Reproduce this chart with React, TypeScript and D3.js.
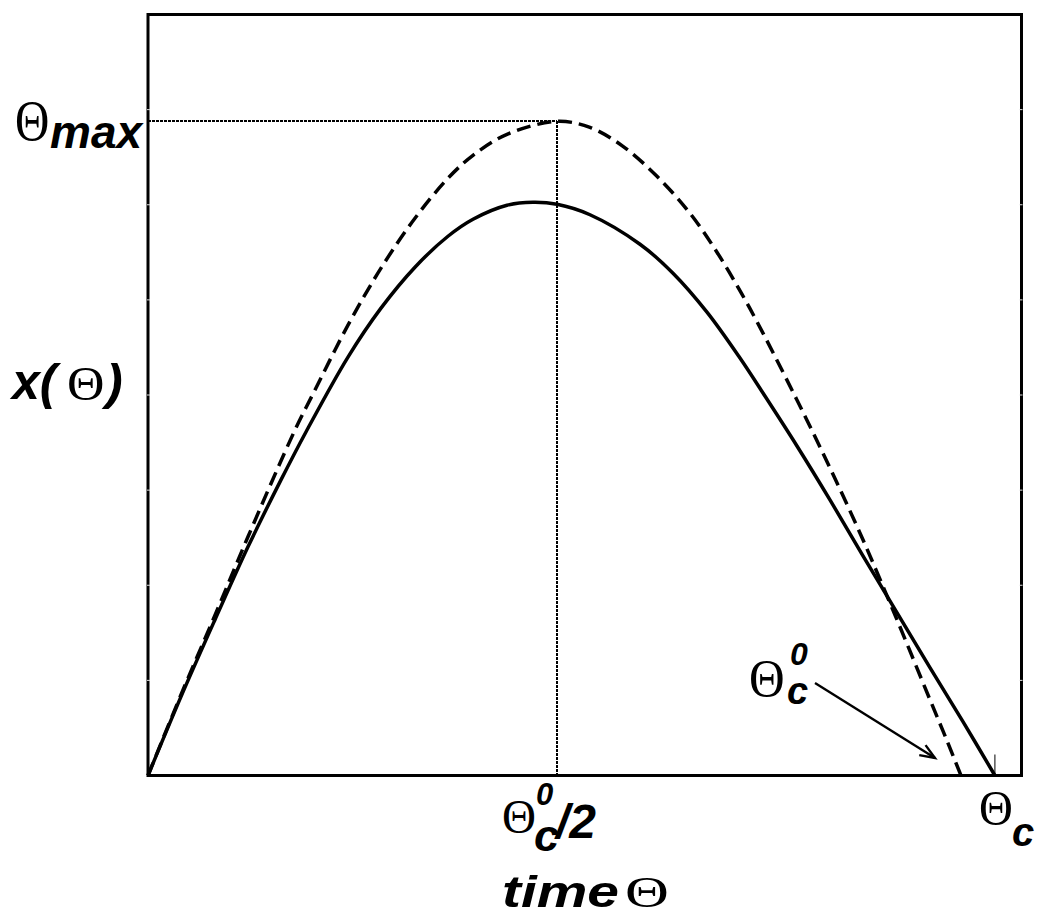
import React from "react";
import * as d3 from "d3";

// time in units of Θc^0, height in units of Θmax
const solidT = [0, 0.0406, 0.0824, 0.123, 0.1636, 0.1943, 0.246, 0.2866, 0.3284, 0.369, 0.3998, 0.4416, 0.4736, 0.5031, 0.5437, 0.6052, 0.6458, 0.6876, 0.7282, 0.7565, 0.7983, 0.8389, 0.8795, 0.9213, 0.9619, 1.0025, 1.0418];
const solidX = [0, 0.1206, 0.2382, 0.3496, 0.4519, 0.5252, 0.6397, 0.7145, 0.7771, 0.8244, 0.8504, 0.8718, 0.8763, 0.8733, 0.8573, 0.8122, 0.7679, 0.7084, 0.6382, 0.5847, 0.5038, 0.4214, 0.3359, 0.2489, 0.1649, 0.0824, 0];

const dashT = [0, 0.0406, 0.0824, 0.123, 0.1808, 0.2054, 0.246, 0.2866, 0.3284, 0.369, 0.3998, 0.4416, 0.5031, 0.5437, 0.5843, 0.6261, 0.6667, 0.6999, 0.7306, 0.7565, 0.7983, 0.8389, 0.8795, 0.9213, 0.9619, 0.9828, 1.0];
const dashX = [0, 0.1235, 0.245, 0.365, 0.5282, 0.5893, 0.6885, 0.7756, 0.8519, 0.913, 0.9481, 0.9802, 1.0, 0.9908, 0.9618, 0.916, 0.8595, 0.8, 0.7359, 0.6763, 0.574, 0.4702, 0.3603, 0.2382, 0.116, 0.0534, 0];

const tMax = 0.5031; // Θc^0/2
const xMax = 1.0; // Θmax
const tC = 1.0418; // Θc
const minorTicks = [1, 2, 3, 4, 5, 6, 7];

const W = 1042, H = 921;
const L = 148, R = 1021.5, T = 14.5, B = 775.5;

const SANS = "'Liberation Sans', Arial, sans-serif";
const SERIF = "'Liberation Serif', 'Times New Roman', serif";

function Theta({ x, y, size, sx = 1, sy = 1 }: { x: number; y: number; size: number; sx?: number; sy?: number }) {
  return (
    <text transform={`translate(${x},${y}) scale(${sx},${sy})`} style={{ fontSize: `${size}px`, fontFamily: SERIF, fontWeight: 400 }}>
      Θ
    </text>
  );
}

export default function App() {
  const x = d3.scaleLinear().domain([0, 1.0745]).range([L, R]);
  const y = d3.scaleLinear().domain([0, 1.1634]).range([B, T]);
  const yt = d3.scaleLinear().domain([0, 8]).range([B, T]);

  const line = d3
    .line<[number, number]>()
    .x((d) => x(d[0]))
    .y((d) => y(d[1]))
    .curve(d3.curveCatmullRom.alpha(0.5));

  const solid = line(solidT.map((t, i) => [t, solidX[i]]));
  const dashed = line(dashT.map((t, i) => [t, dashX[i]]));

  const bi = { fontFamily: SANS, fontWeight: 700, fontStyle: "italic" as const };

  // arrow
  const a0 = [815, 683], a1 = [935, 758];
  const ang = Math.atan2(a1[1] - a0[1], a1[0] - a0[0]);
  const hl = 16, ha = 0.38;
  const h1 = [a1[0] - hl * Math.cos(ang - ha), a1[1] - hl * Math.sin(ang - ha)];
  const h2 = [a1[0] - hl * Math.cos(ang + ha), a1[1] - hl * Math.sin(ang + ha)];

  const gy = Math.round(y(xMax));
  const gx = Math.round(x(tMax));

  return (
    <svg width={W} height={H} style={{ position: "absolute", left: 0, top: 0, background: "#fff" }}>
      <rect x={0} y={0} width={W} height={H} fill="#fff" />
      {/* dotted guides */}
      <line x1={L} x2={gx} y1={gy} y2={gy} stroke="#000" strokeWidth={2} strokeDasharray="2.5,1.5" shapeRendering="crispEdges" />
      <line x1={gx} x2={gx} y1={gy} y2={B} stroke="#000" strokeWidth={2} strokeDasharray="2.5,1.5" shapeRendering="crispEdges" />
      {/* curves */}
      <path d={dashed || ""} fill="none" stroke="#000" strokeWidth={3.5} strokeDasharray="14,7" />
      <path d={solid || ""} fill="none" stroke="#000" strokeWidth={3.5} />
      {/* frame */}
      <rect x={L} y={T} width={R - L} height={B - T} fill="none" stroke="#000" strokeWidth={3} />
      {minorTicks.map((k) => (
        <g key={k}>
          <line x1={L - 1} x2={L + 2} y1={yt(k)} y2={yt(k)} stroke="#ddd" strokeWidth={1} />
          <line x1={R - 2} x2={R + 1} y1={yt(k)} y2={yt(k)} stroke="#ddd" strokeWidth={1} />
        </g>
      ))}
      {/* Θc tick */}
      <line x1={x(tC)} x2={x(tC)} y1={B - 21} y2={B} stroke="#000" strokeWidth={1} />
      {/* arrow */}
      <line x1={a0[0]} y1={a0[1]} x2={a1[0]} y2={a1[1]} stroke="#000" strokeWidth={2.4} />
      <polyline points={`${h1[0]},${h1[1]} ${a1[0]},${a1[1]} ${h2[0]},${h2[1]}`} fill="none" stroke="#000" strokeWidth={2.4} />

      {/* Θmax */}
      <Theta x={15} y={140} size={58} sx={0.82} />
      <text x={50} y={148} fontSize={46} style={bi}>max</text>

      {/* x(Θ) */}
      <text x={12} y={399} fontSize={50} style={bi}>x(</text>
      <Theta x={67} y={400} size={48} sx={1.08} />
      <text x={106} y={399} fontSize={50} style={bi}>)</text>

      {/* Θc0/2 */}
      <Theta x={502} y={833} size={48} sx={0.98} />
      <text x={536} y={805} fontSize={31} style={bi}>0</text>
      <text x={534} y={851} fontSize={45} style={bi}>c</text>
      <text x={556} y={838} fontSize={48} style={bi}>/2</text>

      {/* Θc */}
      <Theta x={979} y={825} size={51} sx={0.92} />
      <text x={1012} y={846} fontSize={40} style={bi}>c</text>

      {/* time Θ */}
      <text x={502} y={907} fontSize={44} textLength={117} lengthAdjust="spacingAndGlyphs" style={bi}>time</text>
      <Theta x={625} y={907} size={44} sx={1.38} />

      {/* Θc0 annotation */}
      <Theta x={749} y={696} size={52} sx={0.95} />
      <text x={790} y={665} fontSize={32} style={bi}>0</text>
      <text x={787} y={704} fontSize={38} style={bi}>c</text>
    </svg>
  );
}
